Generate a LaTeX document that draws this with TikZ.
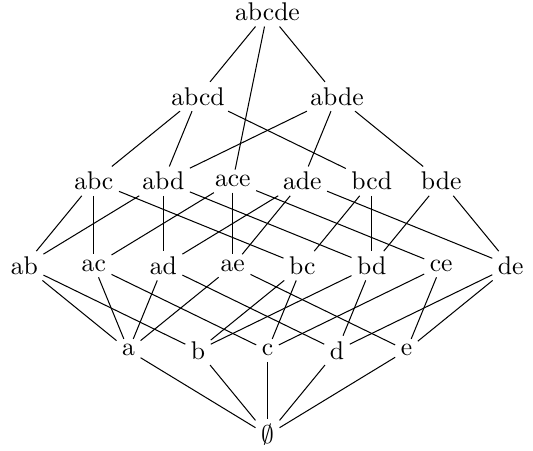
\documentclass[tikz,border=0pt]{standalone}
\usetikzlibrary{positioning}
\tikzset{
  setnode/.style={inner sep=2pt},
  setedge/.style={draw=black, line width=0.4pt},
}
\begin{document}
\begin{tikzpicture}[x=0.954cm, y=1.162cm]
    \useasboundingbox (-3.673cm,-0.206cm) rectangle (3.645cm,5.973cm);
    % level 0 and 1
    \node[setnode] (empty) at (0,0) {$\emptyset$};
    \node[setnode] (a) at (-2,1) {a};
    \node[setnode] (b) at (-1,1) {b};
    \node[setnode] (c) at (0,1) {c};
    \node[setnode] (d) at (1,1) {d};
    \node[setnode] (e) at (2,1) {e};
    % level 2
    \node[setnode] (ab) at (-3.5,2) {ab};
    \node[setnode] (ac) at (-2.5,2) {ac};
    \node[setnode] (ad) at (-1.5,2) {ad};
    \node[setnode] (ae) at (-0.5,2) {ae};
    \node[setnode] (bc) at (0.5,2) {bc};
    \node[setnode] (bd) at (1.5,2) {bd};
    \node[setnode] (ce) at (2.5,2) {ce};
    \node[setnode] (de) at (3.5,2) {de};
    % level 3
    \node[setnode] (abc) at (-2.5,3) {abc};
    \node[setnode] (abd) at (-1.5,3) {abd};
    \node[setnode] (ace) at (-0.5,3) {ace};
    \node[setnode] (ade) at (0.5,3) {ade};
    \node[setnode] (bcd) at (1.5,3) {bcd};
    \node[setnode] (bde) at (2.5,3) {bde};
    % level 4 and 5
    \node[setnode] (abcd) at (-1,4) {abcd};
    \node[setnode] (abde) at (1,4) {abde};
    \node[setnode] (abcde) at (0,5) {abcde};
    % edges
    \draw[setedge] (abcde) -- (abcd);
    \draw[setedge] (abcde) -- (ace);
    \draw[setedge] (abcde) -- (abde);
    \draw[setedge] (abcd) -- (abc);
    \draw[setedge] (abcd) -- (abd);
    \draw[setedge] (abcd) -- (bcd);
    \draw[setedge] (abde) -- (abd);
    \draw[setedge] (abde) -- (ade);
    \draw[setedge] (abde) -- (bde);
    \draw[setedge] (abc) -- (ab);
    \draw[setedge] (abc) -- (ac);
    \draw[setedge] (abc) -- (bc);
    \draw[setedge] (abd) -- (ab);
    \draw[setedge] (abd) -- (ad);
    \draw[setedge] (abd) -- (bd);
    \draw[setedge] (ace) -- (ac);
    \draw[setedge] (ace) -- (ae);
    \draw[setedge] (ace) -- (ce);
    \draw[setedge] (ade) -- (ad);
    \draw[setedge] (ade) -- (ae);
    \draw[setedge] (ade) -- (de);
    \draw[setedge] (bcd) -- (bc);
    \draw[setedge] (bcd) -- (bd);
    \draw[setedge] (bde) -- (bd);
    \draw[setedge] (bde) -- (de);
    \draw[setedge] (ab) -- (a);
    \draw[setedge] (ab) -- (b);
    \draw[setedge] (ac) -- (a);
    \draw[setedge] (ac) -- (c);
    \draw[setedge] (ad) -- (a);
    \draw[setedge] (ad) -- (d);
    \draw[setedge] (ae) -- (a);
    \draw[setedge] (ae) -- (e);
    \draw[setedge] (bc) -- (b);
    \draw[setedge] (bc) -- (c);
    \draw[setedge] (bd) -- (b);
    \draw[setedge] (bd) -- (d);
    \draw[setedge] (ce) -- (c);
    \draw[setedge] (ce) -- (e);
    \draw[setedge] (de) -- (d);
    \draw[setedge] (de) -- (e);
    \draw[setedge] (a) -- (empty);
    \draw[setedge] (b) -- (empty);
    \draw[setedge] (c) -- (empty);
    \draw[setedge] (d) -- (empty);
    \draw[setedge] (e) -- (empty);
\end{tikzpicture}
\end{document}
